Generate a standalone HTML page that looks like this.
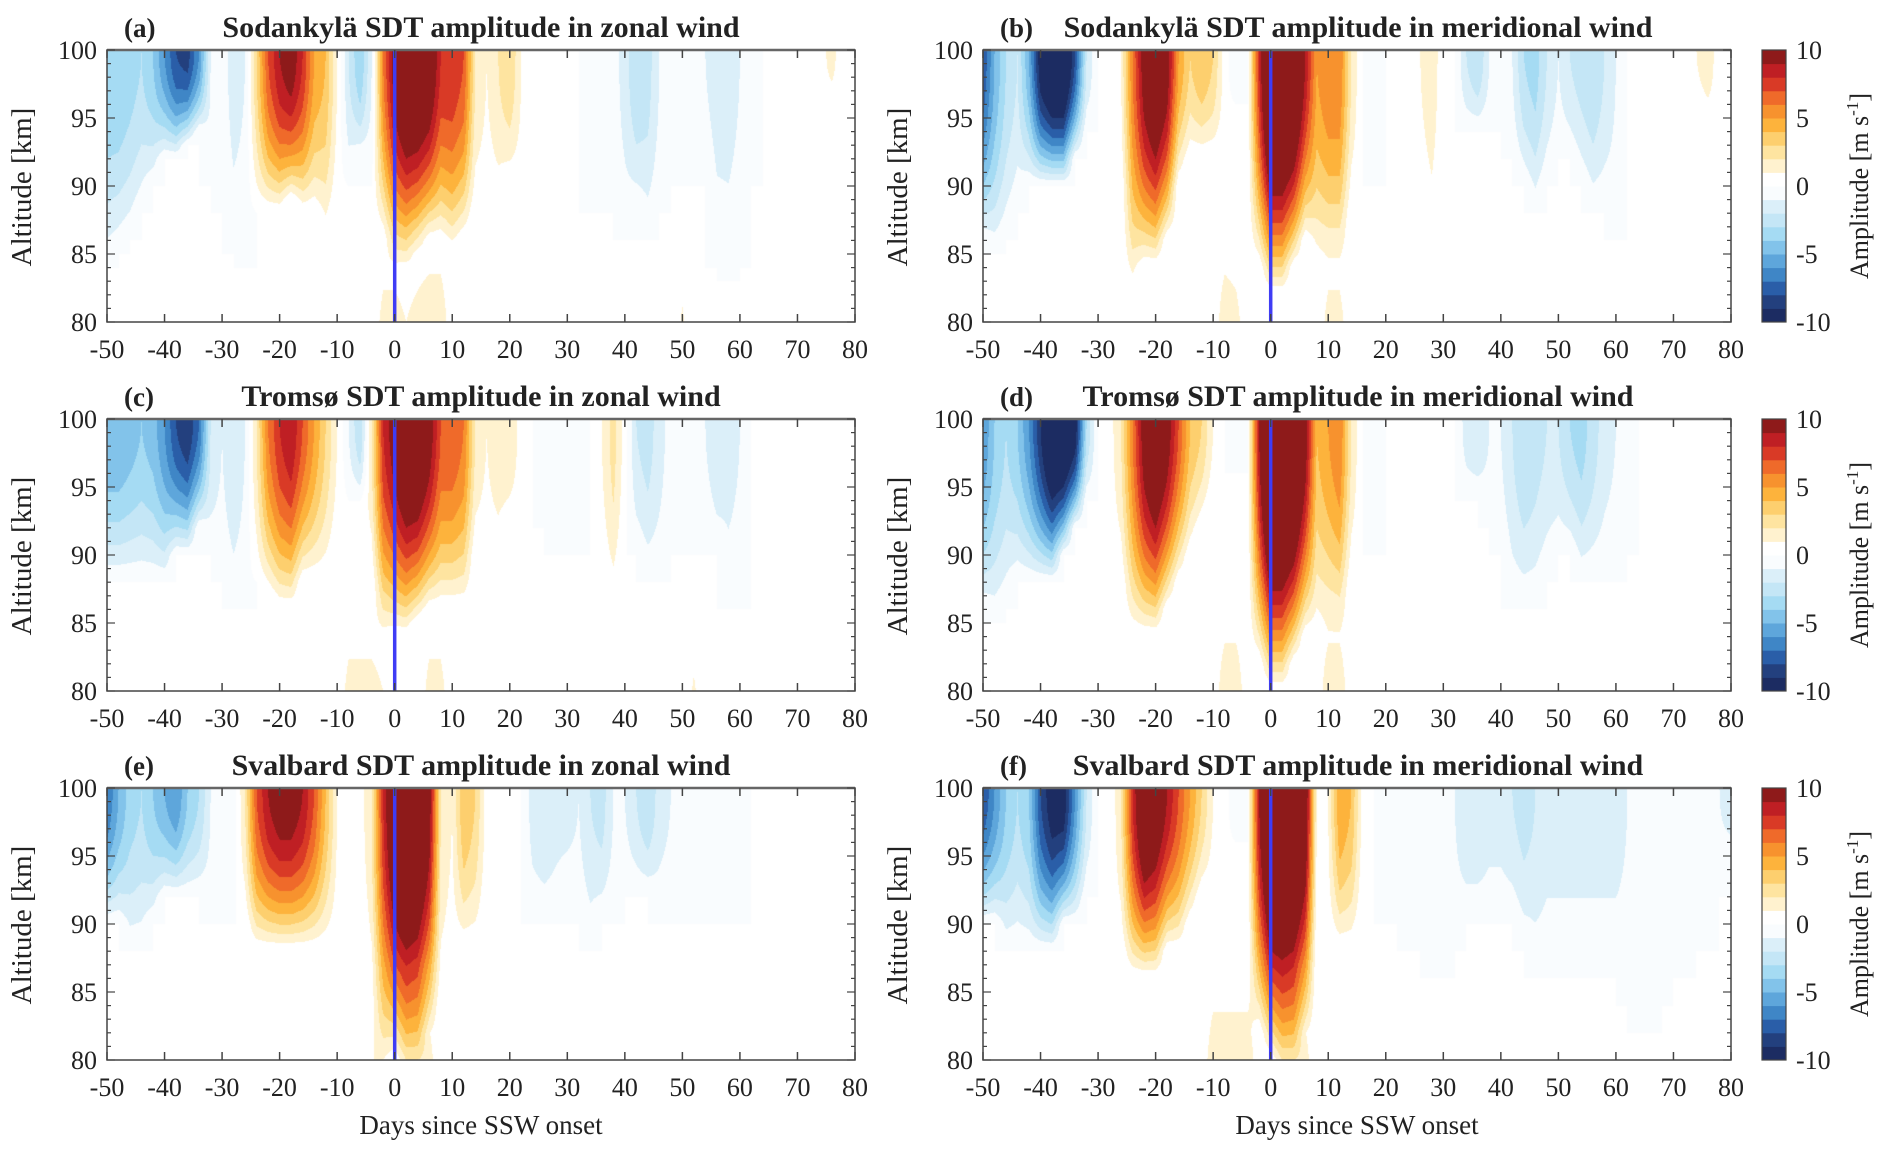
<!DOCTYPE html>
<html><head><meta charset="utf-8">
<style>
html,body{margin:0;padding:0;background:#fff;}
#root{position:relative;width:1892px;height:1157px;overflow:hidden;background:#fff;}
canvas{position:absolute;}
svg{position:absolute;left:0;top:0;}
text{font-family:"Liberation Serif",serif;fill:#222;}
</style></head>
<body>
<div id="root">
<svg id="ov" width="1892" height="1157"></svg>
</div>
<script>
// ---- data: days -50..80 step 2 (66 columns); amplitude at 100 km, altitude where signal vanishes, and low-altitude (80 km) pairs
const days = Array.from({length:66},(_,i)=>-50+2*i);
const xTicks = [-50,-40,-30,-20,-10,0,10,20,30,40,50,60,70,80];
const yTicks = [80,85,90,95,100];
const cbTicks = [10,5,0,-5,-10];
const panelTitles = ["Sodankylä SDT amplitude in zonal wind","Sodankylä SDT amplitude in meridional wind","Tromsø SDT amplitude in zonal wind","Tromsø SDT amplitude in meridional wind","Svalbard SDT amplitude in zonal wind","Svalbard SDT amplitude in meridional wind"];
const panelLetters = ["(a)","(b)","(c)","(d)","(e)","(f)"];

const ampA=[-4,-4,-3.5,-3,-4,-6,-8,-8.5,-6,-1, -0.5,-1.5,-1,3,7,9,10,8,5,4, 1,-2,-4,-1,6,10,12,12,11,8, 8,7,2,1,2,3,1,0.5,0.5,0.5, 0.5,0,-0.5,-1,-0.5,-1.5,-3,-2.5,-1,-0.5, 0,-0.5,-1,-1.5,-1.5,-1,-0.5,0,0,0.3, 0,0,0.5,1.5,0,0];
const depA=[84,85,86,88,90,92,92,93,94,90, 88,85,84,88,88,88,89,88,88,86, 88,90,92,90,86,84,84,85,86,86, 85,86,88,88,88,90,88,86,85,86, 86,90,88,90,88,86,88,86,88,90, 90,90,90,84,83,84,90,90,90,90, 90,90,90,96,90,90];
const lowA=[[-2,1.5],[0,1.5],[2,1],[4,1.5],[6,2],[8,2],[50,1.2]];

const ampB=[-8,-5,-3,-2,-5,-10,-12,-12,-8,-2, 0,0,1,6,10,12,10,5,3,4, 3,0.5,-1,0,8,14,14,13,9,5, 6,6,2,0,-0.5,0,0,0.3,1,1.5, 0.5,0,-2,-3,-1,0,-1,-3,-3.5,-2, -1,-2,-2.5,-3,-2,-1,0,0,0,0, 0,0,1,2,0,0];
const depB=[86,85,86,88,90,90,90,90,92,94, 90,90,90,82,84,84,86,90,92,92, 92,90,96,90,84,82,82,84,86,84, 84,84,88,90,90,90,90,90,86,84, 86,90,94,94,94,90,92,90,88,90, 92,92,90,88,88,86,90,90,90,90, 90,90,96,95,90,90];
const lowB=[[-8,2],[-6,1.5],[10,1.5],[12,1.5],[28,0.8]];

const ampC=[-5,-5,-4.5,-4,-4.5,-6,-8,-9,-7,-2, -1,-2,-1,2,6,8,9,7,5,3, 1,-1,-3,2,8,10,12,12,10,7, 7,6,2,1,2,2,0.5,0,-0.5,-0.3, -1,-0.5,0,1,2.5,0.5,-2,-2.5,-1.5,-0.5, 0,-0.5,-1,-2,-1.5,-1,0,0,0,0, 0,0,0,0.5,0,0];
const depC=[88,88,88,88,88,88,90,90,92,90, 88,86,86,88,87,86,86,88,88,88, 90,94,94,88,84,84,84,85,86,86, 86,86,90,90,90,92,90,90,92,90, 94,90,90,88,86,90,90,88,88,90, 90,90,92,90,86,86,90,90,90,90, 90,90,90,98,90,90];
const lowC=[[-8,1.5],[-6,1.5],[-4,1.5],[-2,1],[6,1.5],[8,1.5],[52,1.2]];

const ampD=[-6,-4,-3,-4,-6,-9,-12,-12,-10,-3, 0,0.5,2,6,10,12,10,7,4,3, 1,0,-1,0,9,15,15,14,10,4, 5,6,2,0,-0.5,0,0.5,0.5,0,0, 0,0,-1.5,-2,-1,-1,-2,-3,-2.5,-2, -2,-3,-3.5,-2.5,-1.5,-1,-0.5,0,0,0, 0,0,0,1,0,0];
const depD=[86,85,86,88,88,88,88,90,92,94, 90,90,88,84,84,84,86,88,90,92, 94,90,96,90,82,80,80,82,84,84, 84,84,88,90,90,90,90,90,90,90, 90,90,94,94,92,90,86,86,86,88, 90,90,88,88,88,88,90,90,90,90, 90,90,90,96,90,90];
const lowD=[[-8,2],[-6,2],[10,2],[12,2]];

const ampE=[-7,-5,-3.5,-3,-4,-5,-6,-4,-3,-1, -0.5,-0.5,2,7,9,10,10,9,7,4, 1,0,0.5,2,8,12,14,13,10,2, 1,4,3,0.5,0.5,0,0,-1.5,-2,-1.5, -1.5,-1,-2,-2.5,-1,-1,-2,-3,-1.5,-1, -1,-1,-1,-1,-0.5,-0.5,0,0,0,0, 0,0,0,0,0,0];
const depE=[90,90,88,88,90,92,92,92,92,90, 90,90,90,88,88,88,88,88,88,88, 88,90,90,84,80,80,80,80,82,84, 86,88,88,90,90,90,90,90,90,90, 92,90,88,90,90,92,92,92,90,90, 90,90,90,90,90,90,90,90,90,90, 90,90,90,90,90,90];
const lowE=[[-4,1],[-2,1],[2,2],[4,2],[6,1.5],[12,1],[44,1],[78,1]];

const ampF=[-8,-6,-4,-3,-4,-8,-10,-10,-6,-2, 0,0,2,8,12,11,9,7,5,3, 1,0.5,-1,0,9,14,15,14,11,1, 1,5,4,0.5,0,-0.5,-0.5,-1,-1,-1, -1,-1,-2,-2,-1.5,-1.5,-2,-2.5,-2,-1.5, -1.5,-1.5,-1.5,-1.5,-1.5,-1.5,-1,-1,-0.5,-0.5, -0.5,-0.5,-0.5,-0.5,-1,-1.5];
const depF=[90,90,88,88,88,88,88,90,90,92, 90,90,88,86,86,86,88,88,90,92, 92,90,96,90,82,80,80,80,82,88, 88,88,88,90,90,90,90,88,88,86, 86,88,90,90,90,90,90,88,86,86, 86,86,86,86,86,86,84,82,82,84, 86,86,88,88,92,94];
const lowF=[[-10,2],[-8,2],[-6,2],[-4,2],[2,2],[4,2],[6,1.5]];

const fields=[[ampA,depA,lowA],[ampB,depB,lowB],[ampC,depC,lowC],[ampD,depD,lowD],[ampE,depE,lowE],[ampF,depF,lowF]];

// ---- style
const bandColors=["#1c2c62","#23407e","#2a5ea8","#3f86c6","#5ea6db","#82c3ea","#a5dbf3","#c4e6f6","#dbeff9","#f9fcfe",
"#ffffff","#fff2cf","#fee4a0","#fdcf6e","#fdb33c","#f7922e","#ef6a2a","#d93a26","#bf1f24","#8e1a1a"];
const colLeft=[107,983], W=748, rowTop=[50,419,788], H=272;
const X0=-50,X1=80,Z0=80,Z1=100;
const ov=document.getElementById('ov');
const root=document.getElementById('root');
const NS='http://www.w3.org/2000/svg';
function mk(tag,attrs,parent){const e=document.createElementNS(NS,tag);for(const k in attrs)e.setAttribute(k,attrs[k]);(parent||ov).appendChild(e);return e;}
function hex(c){return [parseInt(c.substr(1,2),16),parseInt(c.substr(3,2),16),parseInt(c.substr(5,2),16)];}
const rgb=bandColors.map(hex);

function valueAt(f,i,z){
  const amp=f[0][i],dep=f[1][i];
  let t=(100-z)/Math.max(0.5,100-dep); let v=t<1?amp*(1-t*t):0;
  return v;
}
function lowArr(pairs){const a=new Array(66).fill(0);pairs.forEach(p=>{const i=Math.round((p[0]+50)/2);if(i>=0&&i<66)a[i]=p[1];});return a;}

fields.forEach((f,p)=>{
  const col=p%2,row=Math.floor(p/2);
  const L=colLeft[col],T=rowTop[row];
  const low=lowArr(f[2]);
  const cv=document.createElement('canvas');
  cv.width=W;cv.height=H;cv.style.left=L+'px';cv.style.top=T+'px';
  
  
  root.insertBefore(cv,ov);
  const ctx=cv.getContext('2d');const img=ctx.createImageData(W,H);
  for(let px=0;px<W;px++){
    const d=X0+(X1-X0)*(px+0.5)/W; const fi=(d+50)/2; let i0=Math.floor(fi); if(i0>64)i0=64; const fr=fi-i0;
    for(let py=0;py<H;py++){
      const z=Z1-(Z1-Z0)*(py+0.5)/H;
      const g=Math.max(0,1-(z-80)/7);
      const v0=valueAt(f,i0,z)+low[i0]*g, v1=valueAt(f,i0+1,z)+low[i0+1]*g;
      const v=v0*(1-fr)+v1*fr;
      let k=Math.floor(v)+10; if(k<0)k=0; if(k>19)k=19;
      const c=rgb[k]; const o=(py*W+px)*4;
      img.data[o]=c[0];img.data[o+1]=c[1];img.data[o+2]=c[2];img.data[o+3]=255;
    }
  }
  ctx.putImageData(img,0,0);

  const sx=d=>L+(d-X0)/(X1-X0)*W, sy=z=>T+(Z1-z)/(Z1-Z0)*H;
  const g=mk('g',{});
  
  
  const ln=mk('line',{x1:sx(0),x2:sx(0),y1:T,y2:T+H,stroke:'#3f3cf5','stroke-width':3.5},g);
  
  
  const fr=mk('rect',{x:L,y:T,width:W,height:H,fill:'none',stroke:'#444','stroke-width':1.5},g);
  
  
  mk('line',{x1:L,x2:L+W,y1:T,y2:T,stroke:'#666','stroke-width':2.5},g);
  xTicks.forEach(t=>{
    const x=sx(t);
    mk('line',{x1:x,x2:x,y1:T+H,y2:T+H-8,stroke:'#444','stroke-width':1.5},g);
    mk('line',{x1:x,x2:x,y1:T,y2:T+8,stroke:'#444','stroke-width':1.5},g);
    const tx=mk('text',{x:x,y:T+H+36,'text-anchor':'middle','font-size':26},g);tx.textContent=t;
    
    
  });
  for(let z=80;z<=100;z++){
    const y=sy(z),len=(z%5===0)?8:4;
    mk('line',{x1:L,x2:L+len,y1:y,y2:y,stroke:'#444','stroke-width':1.2},g);
    mk('line',{x1:L+W,x2:L+W-len,y1:y,y2:y,stroke:'#444','stroke-width':1.2},g);
  }
  yTicks.forEach(t=>{
    const tx=mk('text',{x:L-10,y:sy(t)+9,'text-anchor':'end','font-size':26},g);tx.textContent=t;
    
    
  });
  const yl=mk('text',{x:0,y:0,'text-anchor':'middle','font-size':29,transform:`translate(${L-76},${T+H/2+1}) rotate(-90)`},g);
  yl.textContent='Altitude [km]';
  
  
  const lt=mk('text',{x:L+17,y:T-13,'font-size':27,'font-weight':'bold'},g);lt.textContent=panelLetters[p];
  
  
  const tt=mk('text',{x:L+W/2+(col?1:0),y:T-13,'text-anchor':'middle','font-size':30,'font-weight':'bold'},g);tt.textContent=panelTitles[p];
  
  
  if(row===2){
    const xl=mk('text',{x:L+W/2,y:T+H+74,'text-anchor':'middle','font-size':27},g);xl.textContent='Days since SSW onset';
    
    
  }
  if(col===1){
    const cb=mk('g',{},g);
    
    
    const cx=1762,cw=24,bh=H/20;
    bandColors.forEach((c,k)=>{mk('rect',{x:cx,y:T+H-(k+1)*bh,width:cw,height:bh+0.5,fill:c},cb);});
    mk('rect',{x:cx,y:T,width:cw,height:H,fill:'none',stroke:'#444','stroke-width':1.2},cb);
    cbTicks.forEach(t=>{
      const y=T+(10-t)/20*H;
      const tx=mk('text',{x:cx+cw+10,y:y+9,'font-size':26},cb);tx.textContent=t;
      
      
    });
    const cl=mk('text',{x:0,y:0,'text-anchor':'middle','font-size':26,transform:`translate(${1868},${T+H/2}) rotate(-90)`},cb);
    cl.innerHTML='Amplitude [m s<tspan dy="-10" font-size="17">-1</tspan><tspan dy="10">]</tspan>';
    
    
  }
});
</script>
</body></html>
